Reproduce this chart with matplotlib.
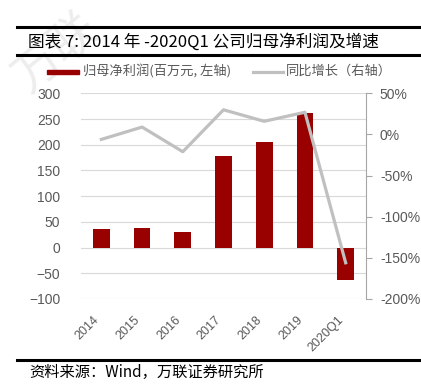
import matplotlib
matplotlib.use("Agg")
import matplotlib.pyplot as plt
import numpy as np
from matplotlib.lines import Line2D
from matplotlib.patches import Rectangle

plt.rcParams['font.family'] = ['Liberation Sans', 'Noto Sans CJK SC', 'DejaVu Sans']
plt.rcParams['axes.unicode_minus'] = True

# data
years = ['2014', '2015', '2016', '2017', '2018', '2019', '2020Q1']
profit = [36, 39, 31, 178, 206, 261, -63]      # 百万元, left axis
growth = [-6, 9, -21, 30, 16, 27, -156]        # %, right axis

left_ticks = [-100, -50, 0, 50, 100, 150, 200, 250, 300]
right_ticks = [-200, -150, -100, -50, 0, 50]

red = '#990000'
lgray = '#C0C0C0'
txtgray = '#595959'
cjk = ['Noto Sans CJK SC', 'DejaVu Sans']

fig = plt.figure(figsize=(4.21, 3.91), dpi=100)
ax = fig.add_axes([0.1924, 0.2353, 0.677, 0.526])

x = np.arange(len(years))
ax.bar(x, profit, width=0.41, color=red, zorder=2)
ax.set_xlim(-0.5, len(years) - 0.5)
ax.set_ylim(-100, 300)
ax.set_yticks(left_ticks)
ax.grid(axis='y', color='#D9D9D9', linewidth=0.8, zorder=0)
ax.set_axisbelow(True)
for s in ax.spines.values():
    s.set_visible(False)
ax.tick_params(axis='y', length=0, pad=15, labelsize=10, labelcolor=txtgray)
ax.set_xticks(x)
ax.set_xticklabels(years, rotation=45, ha='right', fontsize=9, color=txtgray)
ax.tick_params(axis='x', length=0, pad=11)

ax2 = ax.twinx()
ax2.plot(x, growth, color=lgray, linewidth=2.3, zorder=3)
ax2.set_ylim(-200, 50)
ax2.set_yticks(right_ticks)
ax2.set_yticklabels([f'{v}%' for v in right_ticks])
for k in ['top', 'left', 'bottom']:
    ax2.spines[k].set_visible(False)
ax2.spines['right'].set_color('#A6A6A6')
ax2.tick_params(axis='y', direction='out', length=4, color='#A6A6A6',
                pad=6, labelsize=10, labelcolor=txtgray)

# faint watermark, top-left
fig.text(0.01, 0.99, '万联', fontsize=34, color='#EDEDED', rotation=40,
         family=cjk, ha='left', va='top', zorder=0)

# title bar
fig.add_artist(Line2D([0.04, 1.0], [1 - 27 / 391, 1 - 27 / 391], color='black', lw=2.2))
fig.add_artist(Line2D([0.04, 1.0], [1 - 55 / 391, 1 - 55 / 391], color='black', lw=2.2))
fig.text(0.067, 1 - 42 / 391, '图表 7: 2014 年 -2020Q1 公司归母净利润及增速',
         fontsize=12, family=cjk, ha='left', va='center', color='black')

# legend
fig.add_artist(Rectangle((47 / 421, 1 - 73.5 / 391), 32 / 421, 4 / 391,
                         color=red, transform=fig.transFigure))
fig.text(83 / 421, 1 - 71.5 / 391, '归母净利润(百万元, 左轴)', fontsize=9.5,
         family=cjk, color=txtgray, va='center')
fig.add_artist(Line2D([253 / 421, 283 / 421], [1 - 71.5 / 391, 1 - 71.5 / 391],
                      color=lgray, lw=2.3))
fig.text(286 / 421, 1 - 71.5 / 391, '同比增长（右轴）', fontsize=9.5,
         family=cjk, color=txtgray, va='center')

# source
fig.add_artist(Line2D([0.04, 1.0], [1 - 360 / 391, 1 - 360 / 391], color='black', lw=2.2))
fig.text(0.07, 1 - 372 / 391, '资料来源：Wind，万联证券研究所', fontsize=11,
         family=cjk, style='italic', ha='left', va='center', color='black')

fig.savefig('out.png', dpi=100)
